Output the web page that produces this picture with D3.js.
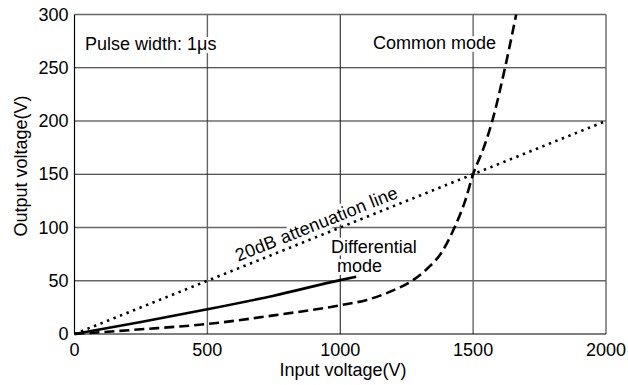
<!DOCTYPE html>
<html>
<head>
<meta charset="utf-8">
<script src="https://cdn.jsdelivr.net/npm/d3@7"></script>
<style>
  body { margin: 0; background: #fff; }
  svg { display: block; font-family: "Liberation Sans", Arial, Helvetica, sans-serif; }
</style>
</head>
<body>
<svg id="chart" width="628" height="385"></svg>
<script>
// chart values
const xTicks = [0, 500, 1000, 1500, 2000];
const yTicks = [0, 50, 100, 150, 200, 250, 300];

const attenuationX = [0, 2000];
const attenuationY = [0, 200];

const diffX = [0, 250, 500, 750, 1000, 1060];
const diffY = [0, 11.3, 23.2, 36, 50.6, 53.7];

const commonX = [0, 250, 500, 750, 1000, 1100, 1190, 1270, 1330, 1380, 1430, 1470, 1500, 1540, 1572, 1620, 1662];
const commonY = [0, 4.4, 9.4, 17.5, 27, 32, 40, 50, 62, 76, 100, 125, 150, 175, 200, 250, 300];

const margin = { top: 14.5, right: 22, bottom: 51, left: 74.5 };
const width = 628, height = 385;

const svg = d3.select('#chart');

const x = d3.scaleLinear().domain([0, 2000]).range([margin.left, width - margin.right]);
const y = d3.scaleLinear().domain([0, 300]).range([height - margin.bottom, margin.top]);

// grid
svg.append('g').selectAll('line')
  .data(xTicks.slice(1, -1))
  .enter().append('line')
  .attr('x1', d => x(d)).attr('x2', d => x(d))
  .attr('y1', y(0)).attr('y2', y(300))
  .attr('stroke', (d, i) => i === 1 ? '#111' : '#666')
  .attr('stroke-width', (d, i) => i === 1 ? 1 : 1.4);

svg.append('g').selectAll('line')
  .data(yTicks.slice(1, -1))
  .enter().append('line')
  .attr('x1', x(0)).attr('x2', x(2000))
  .attr('y1', d => y(d)).attr('y2', d => y(d))
  .attr('stroke', d => d >= 150 ? '#222' : '#666')
  .attr('stroke-width', d => d >= 150 ? 1 : 1.3);

// frame: top and right lighter than axes
svg.append('line').attr('x1', x(0)).attr('x2', x(2000)).attr('y1', y(300)).attr('y2', y(300))
  .attr('stroke', '#666').attr('stroke-width', 1.4);
svg.append('line').attr('x1', x(2000)).attr('x2', x(2000)).attr('y1', y(0)).attr('y2', y(300))
  .attr('stroke', '#666').attr('stroke-width', 1.4);
svg.append('line').attr('x1', x(0)).attr('x2', x(0)).attr('y1', y(0)).attr('y2', y(300))
  .attr('stroke', '#000').attr('stroke-width', 1.2);
svg.append('line').attr('x1', x(0)).attr('x2', x(2000)).attr('y1', y(0)).attr('y2', y(0))
  .attr('stroke', '#000').attr('stroke-width', 1.2);

// tick labels
svg.append('g').selectAll('text')
  .data(xTicks)
  .enter().append('text')
  .attr('x', d => x(d))
  .attr('y', y(0) + 22)
  .attr('text-anchor', 'middle')
  .style('font-size', '18px')
  .text(d => d);

svg.append('g').selectAll('text')
  .data(yTicks)
  .enter().append('text')
  .attr('x', x(0) - 6)
  .attr('y', d => y(d) + 6)
  .attr('text-anchor', 'end')
  .style('font-size', '18px')
  .text(d => d);

// axis titles
svg.append('text')
  .attr('x', 343).attr('y', 376)
  .attr('text-anchor', 'middle')
  .style('font-size', '18px')
  .text('Input voltage(V)');

svg.append('text')
  .attr('transform', 'translate(27,166) rotate(-90)')
  .attr('text-anchor', 'middle')
  .style('font-size', '18px')
  .text('Output voltage(V)');

// annotations, white halo hides the grid underneath
function label(sel) {
  return sel.style('font-size', '18px')
    .attr('stroke', '#fff').attr('stroke-width', 6)
    .attr('paint-order', 'stroke').attr('fill', '#000');
}

label(svg.append('text').attr('x', 85).attr('y', 50).text('Pulse width: 1μs'));
label(svg.append('text').attr('x', 373).attr('y', 49).text('Common mode'));

label(svg.append('text').attr('x', 331).attr('y', 253).text('Differential'));
label(svg.append('text').attr('x', 337).attr('y', 272).style('font-size', '17.5px').text('mode'));

const angle = Math.atan2(y(attenuationY[0]) - y(attenuationY[1]), x(attenuationX[1]) - x(attenuationX[0])) * 180 / Math.PI;
const lx = 625;
label(svg.append('text')
  .attr('transform', `translate(${x(lx)},${y(lx / 10)}) rotate(${-angle})`)
  .attr('dy', -6)
  .style('letter-spacing', '0.2px')
  .text('20dB attenuation line'));

// data lines
const line = d3.line().x(d => x(d[0])).y(d => y(d[1]));

svg.append('path')
  .datum(d3.zip(attenuationX, attenuationY))
  .attr('d', line)
  .attr('fill', 'none')
  .attr('stroke', '#000')
  .attr('stroke-width', 2.6)
  .attr('stroke-dasharray', '2.4 4.6');

svg.append('path')
  .datum(d3.zip(diffX, diffY))
  .attr('d', line.curve(d3.curveMonotoneX))
  .attr('fill', 'none')
  .attr('stroke', '#000')
  .attr('stroke-width', 2.6);

svg.append('path')
  .datum(d3.zip(commonX, commonY))
  .attr('d', line.curve(d3.curveMonotoneX))
  .attr('fill', 'none')
  .attr('stroke', '#000')
  .attr('stroke-width', 2.6)
  .attr('stroke-dasharray', '10 5');
</script>
</body>
</html>
